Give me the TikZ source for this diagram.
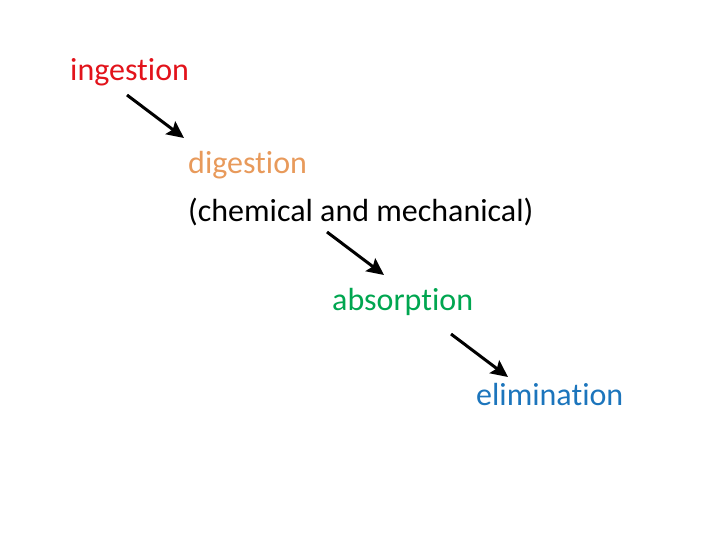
\documentclass[tikz,border=0pt]{standalone}
\usepackage{fontspec}
\setmainfont[Ligatures={NoCommon}]{Carlito}
\usetikzlibrary{arrows.meta}
\definecolor{cred}{HTML}{E2131B}
\definecolor{corange}{HTML}{E89A5B}
\definecolor{cgreen}{HTML}{00A650}
\definecolor{cblue}{HTML}{1C75BC}
\begin{document}
\begin{tikzpicture}[x=1pt,y=-1pt,
  lbl/.style={anchor=west,inner sep=0pt,font=\fontsize{32}{38}\selectfont},
  arr/.style={line width=3pt,-{Stealth[length=17pt,width=16pt,inset=3pt]}}]
\useasboundingbox (0,0) rectangle (720,540);
\node[lbl,text=cred] (ing) at (70,72) {ingestion};
\node[lbl,text=corange] (dig) at (188,165) {digestion};
\node[lbl,text=black] (chem) at (188,212) {(chemical and mechanical)};
\node[lbl,text=cgreen] (abs) at (332,302) {absorption};
\node[lbl,text=cblue] (eli) at (476,395) {elimination};
\coordinate (a1) at (127,95); \coordinate (b1) at (184,138);
\coordinate (a2) at (327,232); \coordinate (b2) at (384,275);
\coordinate (a3) at (451,334); \coordinate (b3) at (508,377);
\draw[arr] (a1) -- (b1);
\draw[arr] (a2) -- (b2);
\draw[arr] (a3) -- (b3);
\end{tikzpicture}
\end{document}
